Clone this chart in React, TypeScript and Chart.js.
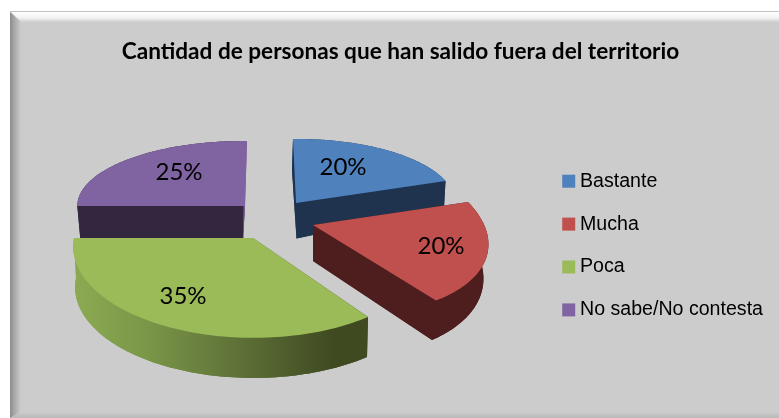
import { useEffect, useRef } from "react";
import { Chart, registerables } from "chart.js";

Chart.register(...registerables);

const categories = ["Bastante", "Mucha", "Poca", "No sabe/No contesta"];
const seriesValues = [20, 20, 35, 25];
const sliceColors = ["#4F81BD", "#C0504D", "#9BBB59", "#8064A2"];
const titleText = "Cantidad de personas que han salido fuera del territorio";

type P = [number, number];
interface Proj { apex: P; start: P; mid: P; end: P }
interface Shape { top: Proj; bottom: Proj; wall: string; thinFace?: string; label: P }

// Where each exploded wedge's rim lands on the tilted picture plane.
const shapes: Shape[] = [
  {
    top: { apex: [296, 203], start: [293, 139], mid: [386, 150], end: [445.5, 181] },
    bottom: { apex: [296.5, 238.5], start: [292, 170], mid: [385, 178], end: [444, 207] },
    wall: "#1F334F",
    label: [343, 167],
  },
  {
    top: { apex: [313, 225], start: [468, 202], mid: [486.5, 257], end: [436, 300.5] },
    bottom: { apex: [313, 261], start: [466, 236], mid: [481, 294], end: [432, 340] },
    wall: "#4E1E1E",
    label: [441, 246],
  },
  {
    top: { apex: [253, 238], start: [368, 317], mid: [165, 326], end: [74, 238] },
    bottom: { apex: [253, 278], start: [367, 357], mid: [165, 366], end: [76, 278] },
    wall: "gradient",
    label: [183, 296],
  },
  {
    top: { apex: [245, 206], start: [77.3, 206], mid: [127.5, 159.5], end: [247, 141] },
    bottom: { apex: [243, 241], start: [80.5, 241], mid: [130, 192], end: [244, 172] },
    wall: "#33263F",
    thinFace: "#7A5C9A",
    label: [179, 172],
  },
];
const drawOrder = [3, 0, 2, 1];

function solve(m: number[][], v: number[]): number[] {
  const n = v.length;
  const a = m.map((r, i) => [...r, v[i]]);
  for (let c = 0; c < n; c++) {
    let p = c;
    for (let r = c + 1; r < n; r++) if (Math.abs(a[r][c]) > Math.abs(a[p][c])) p = r;
    [a[c], a[p]] = [a[p], a[c]];
    for (let r = 0; r < n; r++) {
      if (r === c) continue;
      const f = a[r][c] / a[c][c];
      for (let k = c; k <= n; k++) a[r][k] -= f * a[c][k];
    }
  }
  return a.map((r, i) => r[n] / r[i]);
}

function homography(src: P[], dst: P[]) {
  const m: number[][] = [];
  const v: number[] = [];
  src.forEach(([x, y], i) => {
    const [u, w] = dst[i];
    m.push([x, y, 1, 0, 0, 0, -u * x, -u * y]);
    v.push(u);
    m.push([0, 0, 0, x, y, 1, -w * x, -w * y]);
    v.push(w);
  });
  const h = solve(m, v);
  return (x: number, y: number): P => {
    const d = h[6] * x + h[7] * y + 1;
    return [(h[0] * x + h[1] * y + h[2]) / d, (h[3] * x + h[4] * y + h[5]) / d];
  };
}

function polar(t: number): P {
  return [Math.cos(t), Math.sin(t)];
}

function projector(pr: Proj, sa: number, ea: number) {
  return homography(
    [[0, 0], polar(sa), polar((sa + ea) / 2), polar(ea)],
    [pr.apex, pr.start, pr.mid, pr.end],
  );
}

function fillPoly(ctx: CanvasRenderingContext2D, pts: P[], fill: string | CanvasGradient) {
  ctx.beginPath();
  pts.forEach(([x, y], i) => (i ? ctx.lineTo(x, y) : ctx.moveTo(x, y)));
  ctx.closePath();
  ctx.fillStyle = fill;
  ctx.fill();
}

const pie3d = {
  id: "pie3d",
  beforeDatasetDraw(chart: any) {
    const { ctx } = chart;
    const arcs = chart.getDatasetMeta(0).data;
    ctx.save();
    drawOrder.forEach((i) => {
      const s = shapes[i];
      const { startAngle: sa, endAngle: ea } = arcs[i];
      const top = projector(s.top, sa, ea);
      const bot = projector(s.bottom, sa, ea);
      const N = 90;
      const topRim: P[] = [];
      const botRim: P[] = [];
      for (let k = 0; k <= N; k++) {
        const [x, y] = polar(sa + ((ea - sa) * k) / N);
        topRim.push(top(x, y));
        botRim.push(bot(x, y));
      }
      let wall: string | CanvasGradient = s.wall;
      if (s.wall === "gradient") {
        const g = ctx.createLinearGradient(74, 0, 368, 0);
        g.addColorStop(0, "#8CAA52");
        g.addColorStop(0.25, "#7A9648");
        g.addColorStop(0.55, "#5F7238");
        g.addColorStop(0.88, "#3F4A21");
        g.addColorStop(1, "#3F4A21");
        wall = g;
      }
      fillPoly(ctx, [bot(0, 0), ...botRim], wall);
      fillPoly(ctx, [...topRim, ...[...botRim].reverse()], wall);
      fillPoly(ctx, [top(0, 0), topRim[0], botRim[0], bot(0, 0)], wall);
      fillPoly(ctx, [top(0, 0), topRim[N], botRim[N], bot(0, 0)], s.thinFace ?? wall);
      fillPoly(ctx, [top(0, 0), ...topRim], sliceColors[i]);
    });
    const total = seriesValues.reduce((a, b) => a + b, 0);
    ctx.fillStyle = "#000";
    ctx.font = "24px Lato";
    ctx.textAlign = "center";
    ctx.textBaseline = "middle";
    seriesValues.forEach((v, i) => {
      const [x, y] = shapes[i].label;
      ctx.fillText(`${Math.round((v / total) * 100)}%`, x, y);
    });
    ctx.restore();
    return false;
  },
};

const frame = {
  id: "frame",
  beforeDraw(chart: any) {
    const { ctx, width, height } = chart;
    const L = 10, T = 11;
    ctx.save();
    ctx.fillStyle = "#FFFFFF";
    ctx.fillRect(0, 0, width, height);
    ctx.fillStyle = "#CCCCCC";
    ctx.fillRect(L, T, width - L, height - T);
    const top = ctx.createLinearGradient(0, T + 1, 0, T + 11);
    top.addColorStop(0, "#FFFFFF");
    top.addColorStop(0.6, "#F2F2F2");
    top.addColorStop(1, "#D0D0D0");
    ctx.fillStyle = top;
    ctx.beginPath();
    ctx.moveTo(L + 1, T + 1);
    ctx.lineTo(width, T + 1);
    ctx.lineTo(width, T + 11);
    ctx.lineTo(L + 11, T + 11);
    ctx.closePath();
    ctx.fill();
    const left = ctx.createLinearGradient(L, 0, L + 11, 0);
    left.addColorStop(0, "#8C8C8C");
    left.addColorStop(0.4, "#A8A8A8");
    left.addColorStop(1, "#CCCCCC");
    ctx.fillStyle = left;
    ctx.beginPath();
    ctx.moveTo(L, T + 1);
    ctx.lineTo(L + 11, T + 11);
    ctx.lineTo(L + 11, height - 6);
    ctx.lineTo(L, height);
    ctx.closePath();
    ctx.fill();
    const bottom = ctx.createLinearGradient(0, height - 6, 0, height);
    bottom.addColorStop(0, "#CCCCCC");
    bottom.addColorStop(1, "#B8B8B8");
    ctx.fillStyle = bottom;
    ctx.beginPath();
    ctx.moveTo(L, height);
    ctx.lineTo(L + 11, height - 6);
    ctx.lineTo(width, height - 6);
    ctx.lineTo(width, height);
    ctx.closePath();
    ctx.fill();
    ctx.fillStyle = "#C4C4C4";
    ctx.fillRect(L, T, width - L, 1);
    ctx.restore();
  },
};

export default function App() {
  const ref = useRef<HTMLCanvasElement>(null);
  useEffect(() => {
    const chart = new Chart(ref.current!, {
      type: "pie",
      data: {
        labels: categories,
        datasets: [{ data: seriesValues, backgroundColor: sliceColors, borderWidth: 0 }],
      },
      options: {
        responsive: false,
        animation: false,
        layout: { padding: { left: 28, right: 6, top: 38, bottom: 0 } },
        plugins: {
          tooltip: { enabled: false },
          title: {
            display: true,
            text: titleText,
            color: "#000",
            font: { family: "Lato", size: 22.6, weight: "bold" },
            padding: { top: 0, bottom: 8 },
          },
          legend: {
            position: "right",
            fullSize: false,
            labels: {
              color: "#000",
              font: { family: "'Liberation Sans'", size: 19.6 },
              boxWidth: 3,
              boxHeight: 3,
              padding: 23.3,
              generateLabels: () =>
                categories.map((text, i) => ({
                  text,
                  index: i,
                  fillStyle: sliceColors[i],
                  strokeStyle: sliceColors[i],
                  lineWidth: 10,
                })),
            },
          },
        },
      },
      plugins: [frame, pie3d],
    } as any);
    return () => chart.destroy();
  }, []);
  return (
    <div style={{ position: "absolute", left: 0, top: 0 }}>
      <canvas ref={ref} width={779} height={418} style={{ display: "block" }} />
    </div>
  );
}
